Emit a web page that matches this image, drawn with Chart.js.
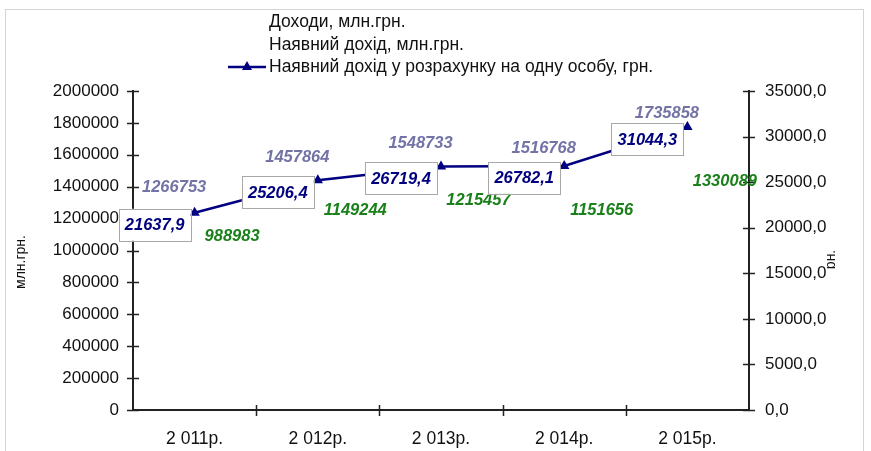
<!DOCTYPE html>
<html>
<head>
<meta charset="utf-8">
<script src="https://cdn.jsdelivr.net/npm/chart.js@4/dist/chart.umd.min.js"></script>
<style>
  html, body { margin: 0; padding: 0; background: #fff; }
  #wrap { position: relative; width: 871px; height: 451px; }
</style>
</head>
<body>
<div id="wrap"><canvas id="c" width="871" height="451"></canvas></div>
<script>
// Роки
const categories = ['2 011р.', '2 012р.', '2 013р.', '2 014р.', '2 015р.'];
// Доходи, млн.грн.
const incomes = [1266753, 1457864, 1548733, 1516768, 1735858];
// Наявний дохід, млн.грн.
const disposable = [988983, 1149244, 1215457, 1151656, 1330089];
// Наявний дохід у розрахунку на одну особу, грн.
const perCapita = [21637.9, 25206.4, 26719.4, 26782.1, 31044.3];

const seriesNames = [
  'Доходи, млн.грн.',
  'Наявний дохід, млн.грн.',
  'Наявний дохід у розрахунку на одну особу, грн.'
];
const leftTitle = 'млн.грн.';
const rightTitle = 'грн.';

const FONT = "'Liberation Sans', Arial, sans-serif";
const NAVY = '#000080';
const GREY_LABEL = '#7373a6';
const GREEN_LABEL = '#1a801a';
const AXIS = '#222';

const fmtComma = v => v.toFixed(1).replace('.', ',');

// Рамка діаграми
const framePlugin = {
  id: 'frame',
  beforeDraw(chart) {
    const ctx = chart.ctx;
    ctx.save();
    ctx.fillStyle = '#fff';
    ctx.fillRect(0, 0, chart.width, chart.height);
    ctx.strokeStyle = '#d4d4d4';
    ctx.lineWidth = 1;
    ctx.strokeRect(5.5, 9.5, 858, 460);
    ctx.restore();
  }
};

// Поділки, що перетинають осі
const crossTicksPlugin = {
  id: 'crossTicks',
  afterDraw(chart) {
    const ctx = chart.ctx;
    const { x, y, y1 } = chart.scales;
    ctx.save();
    ctx.strokeStyle = AXIS;
    ctx.lineWidth = 1.5;
    ctx.beginPath();
    y.ticks.forEach(t => {
      const py = Math.round(y.getPixelForValue(t.value)) + 0.5;
      ctx.moveTo(y.right - 6, py); ctx.lineTo(y.right + 6, py);
    });
    y1.ticks.forEach(t => {
      const py = Math.round(y1.getPixelForValue(t.value)) + 0.5;
      ctx.moveTo(y1.left - 6, py); ctx.lineTo(y1.left + 6, py);
    });
    for (let i = 0; i < categories.length - 1; i++) {
      const px = Math.round((x.getPixelForValue(i) + x.getPixelForValue(i + 1)) / 2) + 0.5;
      ctx.moveTo(px, x.top - 5); ctx.lineTo(px, x.top + 6);
    }
    ctx.stroke();
    ctx.restore();
  }
};

// Підписи значень (поверх осей)
const valueLabelsPlugin = {
  id: 'valueLabels',
  afterDraw(chart) {
    const ctx = chart.ctx;
    ctx.save();
    ctx.textAlign = 'center';
    ctx.textBaseline = 'middle';
    ctx.font = `italic bold 16.5px ${FONT}`;

    // Доходи
    chart.getDatasetMeta(0).data.forEach((bar, i) => {
      ctx.fillStyle = GREY_LABEL;
      ctx.fillText(String(incomes[i]), bar.x - 2, bar.y - 20);
    });
    // Наявний дохід
    chart.getDatasetMeta(1).data.forEach((bar, i) => {
      ctx.fillStyle = GREEN_LABEL;
      ctx.fillText(String(disposable[i]), bar.x + 19, bar.y - 16);
    });
    // На одну особу — у рамках
    chart.getDatasetMeta(2).data.forEach((pt, i) => {
      const cx = pt.x - 40, cy = pt.y + 12;
      const w = 72, h = 32;
      ctx.fillStyle = '#fff';
      ctx.fillRect(cx - w / 2, cy - h / 2, w, h);
      ctx.strokeStyle = '#a8a8a8';
      ctx.lineWidth = 1;
      ctx.strokeRect(Math.round(cx - w / 2) + 0.5, Math.round(cy - h / 2) + 0.5, w, h);
      ctx.fillStyle = NAVY;
      ctx.fillText(fmtComma(perCapita[i]), cx, cy + 1);
    });
    ctx.restore();
  }
};

// Легенда та назви осей
const legendPlugin = {
  id: 'customLegend',
  afterDraw(chart) {
    const ctx = chart.ctx;
    ctx.save();
    ctx.font = `17.5px ${FONT}`;
    ctx.fillStyle = '#111';
    ctx.textAlign = 'left';
    ctx.textBaseline = 'middle';
    const lx = 269, ys = [22, 45, 67];
    seriesNames.forEach((name, i) => ctx.fillText(name, lx, ys[i]));
    // символ лінії
    ctx.strokeStyle = NAVY;
    ctx.lineWidth = 2.5;
    ctx.beginPath();
    ctx.moveTo(228, ys[2]); ctx.lineTo(266, ys[2]);
    ctx.stroke();
    ctx.fillStyle = NAVY;
    ctx.beginPath();
    ctx.moveTo(247, ys[2] - 6); ctx.lineTo(252, ys[2] + 3); ctx.lineTo(242, ys[2] + 3);
    ctx.closePath();
    ctx.fill();

    // назви осей
    ctx.font = `14px ${FONT}`;
    ctx.fillStyle = '#111';
    ctx.textAlign = 'center';
    ctx.textBaseline = 'alphabetic';
    ctx.save();
    ctx.beginPath();
    ctx.rect(17, 220, 14, 80);
    ctx.clip();
    ctx.translate(25, 262);
    ctx.rotate(-Math.PI / 2);
    ctx.fillText(leftTitle, 0, 0);
    ctx.restore();

    ctx.save();
    ctx.beginPath();
    ctx.rect(827, 251, 8, 18);
    ctx.clip();
    ctx.translate(835, 262);
    ctx.rotate(-Math.PI / 2);
    ctx.fillText(rightTitle, 0, 0);
    ctx.restore();
    ctx.restore();
  }
};

new Chart(document.getElementById('c'), {
  type: 'bar',
  data: {
    labels: categories,
    datasets: [
      {
        label: seriesNames[0],
        data: incomes,
        yAxisID: 'y',
        backgroundColor: 'rgba(255,255,255,0)',
        borderWidth: 0,
        categoryPercentage: 0.6,
        barPercentage: 1,
        order: 2
      },
      {
        label: seriesNames[1],
        data: disposable,
        yAxisID: 'y',
        backgroundColor: 'rgba(255,255,255,0)',
        borderWidth: 0,
        categoryPercentage: 0.6,
        barPercentage: 1,
        order: 2
      },
      {
        type: 'line',
        label: seriesNames[2],
        data: perCapita,
        yAxisID: 'y1',
        borderColor: NAVY,
        borderWidth: 2.5,
        backgroundColor: NAVY,
        pointStyle: 'triangle',
        pointRadius: 6,
        pointBackgroundColor: NAVY,
        pointBorderColor: NAVY,
        pointBorderWidth: 0,
        tension: 0,
        order: 1
      }
    ]
  },
  options: {
    responsive: false,
    animation: false,
    devicePixelRatio: 1,
    layout: { padding: { top: 91, left: 0, right: 0, bottom: 0 } },
    plugins: {
      legend: { display: false },
      tooltip: { enabled: false }
    },
    scales: {
      x: {
        grid: { display: true, drawOnChartArea: false, drawTicks: false, offset: true },
        border: { display: true, color: AXIS, width: 2 },
        ticks: { color: '#111', font: { family: FONT, size: 17.5 }, padding: 19, maxRotation: 0 },
        afterFit(s) { s.height = 41; }
      },
      y: {
        position: 'left',
        min: 0, max: 2000000,
        ticks: { stepSize: 200000, color: '#111', font: { family: FONT, size: 17 }, padding: 14,
                 callback: v => String(v) },
        grid: { display: true, drawOnChartArea: false, drawTicks: false },
        border: { display: true, color: AXIS, width: 2 },
        afterFit(s) { s.width = 133; }
      },
      y1: {
        position: 'right',
        min: 0, max: 35000,
        ticks: { stepSize: 5000, color: '#111', font: { family: FONT, size: 17 }, padding: 16,
                 callback: v => fmtComma(v) },
        grid: { display: true, drawOnChartArea: false, drawTicks: false },
        border: { display: true, color: AXIS, width: 2 },
        afterFit(s) { s.width = 122; }
      }
    }
  },
  plugins: [framePlugin, crossTicksPlugin, valueLabelsPlugin, legendPlugin]
});
</script>
</body>
</html>
